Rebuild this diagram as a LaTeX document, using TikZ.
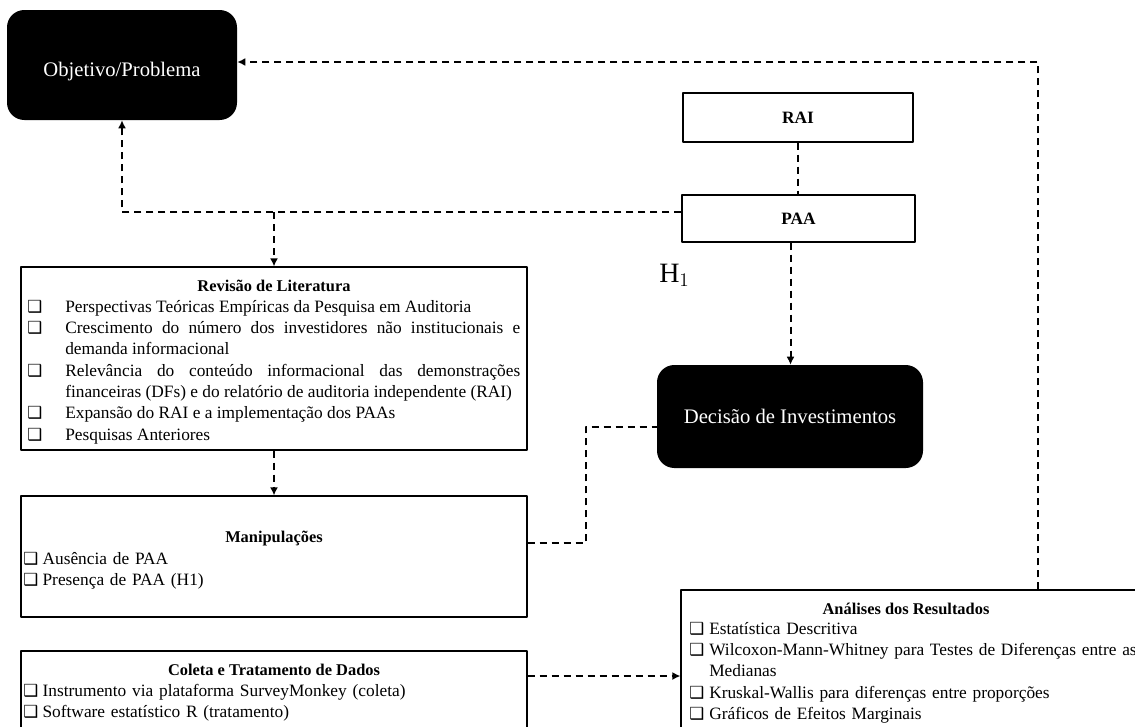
\documentclass[tikz,border=0pt]{standalone}
\usepackage{fontspec}
\setmainfont{Liberation Serif}
\newfontfamily\dejavu{DejaVu Sans}
\usetikzlibrary{fit,arrows.meta}

\newcommand{\quadrado}{{\dejavu\fontsize{12.5}{14}\selectfont ❑}}
\newcommand{\topico}[2]{\hangindent=#1\hangafter=1\makebox[#1][l]{\quadrado}#2\par}

\begin{document}
\begin{tikzpicture}[x=0.75pt, y=-0.75pt, line join=round,
  caixa/.style={draw, line width=0.9pt, inner sep=0pt},
  caixapreta/.style={fill=black, rounded corners=13pt, inner sep=0pt},
  textopreto/.style={text=white, inner sep=0pt, font=\fontsize{15.5}{18}\selectfont},
  tracejado/.style={line width=1.5pt, dash pattern=on 5.5pt off 3.5pt},
  seta/.style={-{Latex[length=6pt,width=6pt]}},
  titulo/.style={anchor=base, inner sep=0pt, font=\fontsize{12.3}{16}\selectfont\bfseries},
  lista/.style={anchor=base west, inner sep=0pt, text width=#1,
    font={\fontsize{13}{16}\selectfont\hyphenpenalty=10000 \exhyphenpenalty=10000 \tolerance=10000 }}]
\useasboundingbox (0,0) rectangle (1135,726);
\clip (0,0) rectangle (1135,726);

\node[caixapreta, fit={(7,10) (237,120)}] (obj) {};
\node[textopreto] (objtxt) at ([yshift=-5pt]obj.center) {Objetivo/Problema};
\node[caixapreta, fit={(657,365) (923,468)}] (dec) {};
\node[textopreto] (dectxt) at (dec.center) {Decisão de Investimentos};
\node[caixa, fit={(683,93) (913,142)}] (rai) {};
\node[font=\fontsize{13}{16}\selectfont\bfseries, inner sep=0pt] (raitxt) at (rai.center) {RAI};
\node[caixa, fit={(682,195) (915,242)}] (paa) {};
\node[font=\fontsize{13}{16}\selectfont\bfseries, inner sep=0pt] (paatxt) at (paa.center) {PAA};
\node[anchor=base west, inner sep=0pt, font=\fontsize{21}{25}\selectfont] (hip) at (659,282) {$\mathrm{H}_1$};

\node[caixa, fit={(21,267) (527,450)}] (rev) {};
\node[titulo] (revtit) at (274,291) {Revisão de Literatura};
\node[lista=369.75pt, align=justify] (revlst) at (27,312) {%
  \topico{28.5pt}{Perspectivas Teóricas Empíricas da Pesquisa em Auditoria}%
  \topico{28.5pt}{Crescimento do número dos investidores não institucionais e\linebreak demanda informacional}%
  \topico{28.5pt}{Relevância do conteúdo informacional das demonstrações\linebreak financeiras (DFs) e do relatório de auditoria independente (RAI)}%
  \topico{28.5pt}{Expansão do RAI e a implementação dos PAAs}%
  \topico{28.5pt}{Pesquisas Anteriores}};

\node[caixa, fit={(21,496) (527,617)}] (man) {};
\node[titulo] (mantit) at (274,542) {Manipulações};
\node[lista=367.5pt, align=left] (manlst) at (23,564) {%
  \topico{14.5pt}{Ausência de PAA}%
  \topico{14.5pt}{Presença de PAA (H1)}};

\node[caixa, fit={(21,651) (527,760)}] (col) {};
\node[titulo] (coltit) at (274,675) {Coleta e Tratamento de Dados};
\node[lista=367.5pt, align=left] (collst) at (23,696) {%
  \topico{14.5pt}{Instrumento via plataforma SurveyMonkey (coleta)}%
  \topico{14.5pt}{Software estatístico R (tratamento)}};

\node[caixa, fit={(681,590) (1160,760)}] (ana) {};
\node[titulo] (anatit) at (906,614) {Análises dos Resultados};
\node[lista=339pt, align=left] (analst) at (689,634) {%
  \topico{15pt}{Estatística Descritiva}%
  \topico{15pt}{Wilcoxon-Mann-Whitney para Testes de Diferenças entre as\newline Medianas}%
  \topico{15pt}{Kruskal-Wallis para diferenças entre proporções}%
  \topico{15pt}{Gráficos de Efeitos Marginais}};

\coordinate (ret) at (1038,62);
\coordinate (hub) at (121,212);
\coordinate (m1) at (586,543);
\coordinate (m2) at (586,427);
\coordinate (c3) at (600,676);
\draw[tracejado, seta] (ana.north -| ret) -- (ret) -- (ret -| obj.east);
\draw[tracejado, seta] (paa.west |- hub) -- (hub -| obj.south) -- (obj.south);
\draw[tracejado, seta] (rev.north |- hub) -- (rev.north);
\draw[tracejado] (rai.south) -- (rai.south |- paa.north);
\draw[tracejado, seta] ([xshift=-6pt]paa.south) -- ([xshift=-6pt]paa.south |- dec.north);
\draw[tracejado, seta] (rev.south) -- (man.north);
\draw[tracejado] (m1 -| man.east) -- (m1) -- (m2) -- (m2 -| dec.west);
\draw[tracejado, seta] (c3 -| col.east) -- (c3 -| ana.west);
\end{tikzpicture}
\end{document}
